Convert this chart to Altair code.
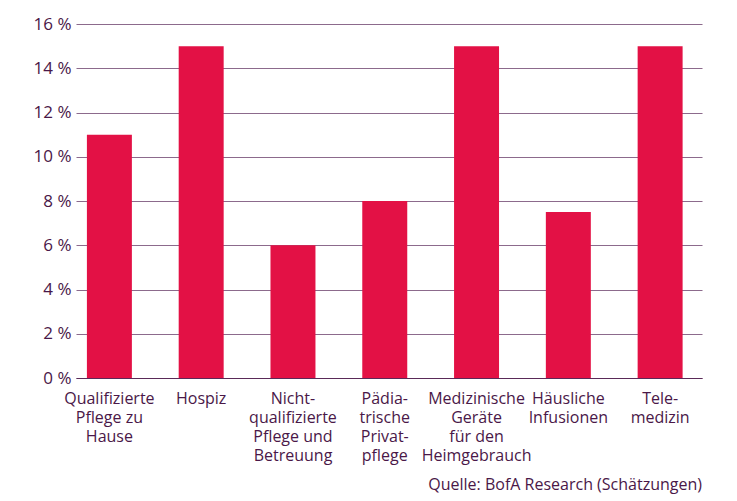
import altair as alt
import pandas as pd

categories = [
    "Qualifizierte\nPflege zu\nHause",
    "Hospiz",
    "Nicht-\nqualifizierte\nPflege und\nBetreuung",
    "Pädia-\ntrische\nPrivat-\npflege",
    "Medizinische\nGeräte\nfür den\nHeimgebrauch",
    "Häusliche\nInfusionen",
    "Tele-\nmedizin",
]
values = [11, 15, 6, 8, 15, 7.5, 15]
y_ticks = [0, 2, 4, 6, 8, 10, 12, 14, 16]
source = "Quelle: BofA Research (Schätzungen)"

df = pd.DataFrame({"cat": categories, "val": values})

FONT = "Open Sans"
TEXT = "#4a1848"

chart = alt.Chart(df).mark_bar(color="#e31145").encode(
    x=alt.X(
        "cat:N",
        sort=categories,
        title=None,
        scale=alt.Scale(paddingInner=0.51, paddingOuter=0.165, align=0.36),
        axis=alt.Axis(
            labelAngle=0,
            labelExpr="split(datum.label, '\\n')",
            labelFont=FONT,
            labelFontSize=16,
            labelColor=TEXT,
            labelLineHeight=19,
            labelPadding=12,
            labelBaseline="top",
            ticks=False,
            domain=True,
            domainColor="#5a2a58",
            domainWidth=1.2,
            labelLimit=200,
        ),
    ),
    y=alt.Y(
        "val:Q",
        title=None,
        scale=alt.Scale(domain=[0, 16], nice=False),
        axis=alt.Axis(
            values=y_ticks,
            labelExpr="datum.value + ' %'",
            labelFont=FONT,
            labelFontSize=17,
            labelColor=TEXT,
            labelPadding=5,
            ticks=False,
            domain=False,
            grid=True,
            gridColor="#8c6a8c",
            gridWidth=1.2,
        ),
    ),
).properties(
    width=626,
    height=354,
    title=alt.TitleParams(
        source,
        orient="bottom",
        anchor="end",
        font=FONT,
        fontSize=16,
        fontWeight="normal",
        color=TEXT,
        offset=14,
    ),
    padding={"left": 68, "top": 16, "right": 20, "bottom": 121},
    autosize=alt.AutoSizeParams(type="none"),
).configure_view(stroke=None)

chart.save("out.html", embed_options={"renderer": "svg", "actions": False})
